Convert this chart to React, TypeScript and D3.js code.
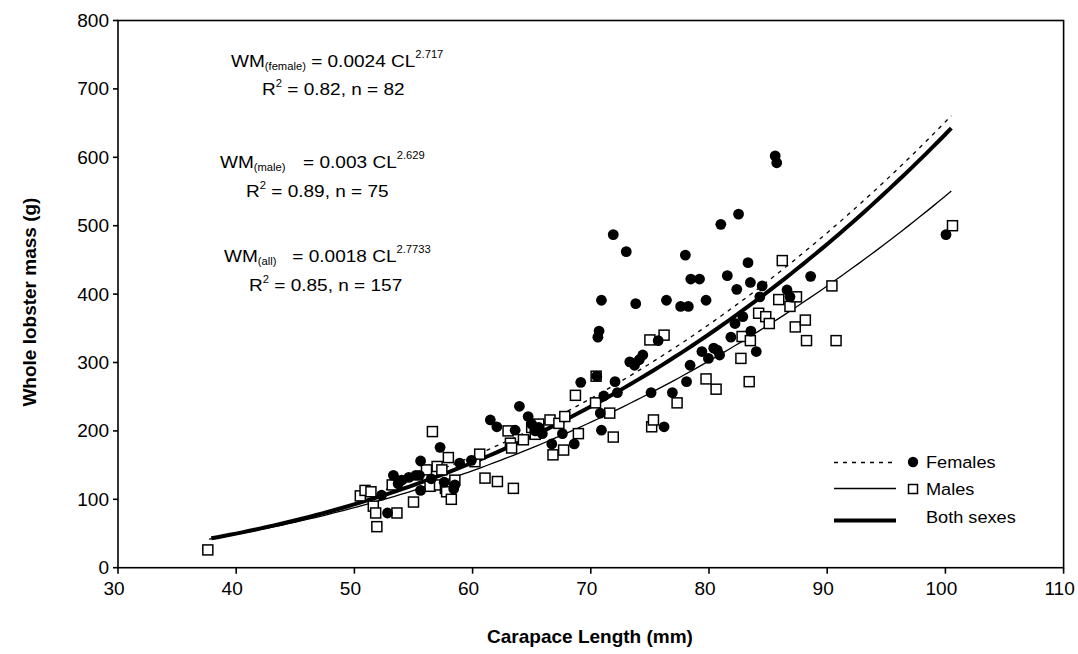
import React from "react";
import * as d3 from "d3";

// ---- data ----
const females: [number, number][] = [
  [52.3, 106], [52.8, 80], [53.3, 135], [53.7, 123], [54.0, 128], [54.6, 132], [55.2, 135],
  [55.5, 135], [55.6, 156], [55.6, 113], [56.5, 130], [57.25, 176], [57.6, 125], [58.5, 121],
  [58.4, 115], [58.9, 153], [59.9, 157], [61.5, 216], [62.05, 206], [63.6, 201], [63.96, 236],
  [64.7, 221], [65.0, 210], [65.3, 200], [65.6, 205], [65.9, 196], [66.7, 181], [67.6, 196],
  [68.6, 181], [69.15, 271], [70.5, 280], [70.6, 337], [70.7, 346], [70.8, 226], [70.9, 201],
  [70.9, 391], [71.1, 251], [72.05, 272], [72.25, 256], [71.9, 487], [73.0, 462], [73.3, 301],
  [73.7, 296], [74.1, 304], [74.4, 311], [73.8, 386], [75.1, 256], [75.7, 332], [76.2, 206],
  [76.4, 391], [76.9, 256], [77.6, 382], [78.25, 382], [78.0, 457], [78.1, 272], [78.4, 296],
  [78.46, 422], [79.2, 422], [79.75, 391], [79.4, 316], [79.95, 306], [80.4, 321], [80.7, 318],
  [80.9, 311], [81.0, 502], [81.55, 427], [81.85, 337], [82.2, 357], [82.35, 407], [82.5, 517],
  [82.86, 367], [83.3, 446], [83.5, 417], [83.54, 346], [84.0, 316], [84.3, 396], [84.5, 412],
  [85.6, 602], [85.73, 592], [86.6, 406], [86.85, 396], [88.6, 426], [100.05, 487],
];

const males: [number, number][] = [
  [37.6, 26], [50.5, 105], [50.9, 113], [51.4, 111], [51.6, 90], [51.8, 80], [51.9, 60],
  [53.2, 121], [53.6, 80], [55.0, 96], [56.1, 143], [56.4, 119], [56.6, 199], [57.0, 148],
  [57.2, 121], [57.4, 143], [57.7, 116], [57.8, 111], [57.95, 161], [58.2, 100], [58.5, 128],
  [60.2, 155], [60.6, 166], [61.05, 131], [62.1, 126], [63.0, 200], [63.2, 182], [63.3, 175],
  [63.45, 116], [64.3, 187], [65.0, 205], [65.3, 195], [65.6, 210], [66.55, 216], [66.8, 165],
  [67.3, 211], [67.8, 221], [67.7, 172], [68.7, 252], [68.95, 196], [70.4, 241], [70.45, 280],
  [71.6, 226], [71.9, 191], [75.0, 333], [75.15, 206], [75.3, 216], [76.2, 340], [77.3, 241],
  [79.75, 276], [80.6, 261], [82.7, 306], [82.8, 338], [83.4, 272], [83.5, 332], [84.2, 372],
  [84.8, 367], [85.1, 357], [85.9, 392], [86.2, 449], [86.85, 382], [87.3, 352], [87.4, 396],
  [88.15, 362], [88.25, 332], [90.4, 412], [90.75, 332], [100.6, 500],
];

// fitted power curves WM = a * CL^b, with their CL ranges
const fitNames = ["female", "male", "all"];
const fitA = [0.0024, 0.003, 0.0018];
const fitB = [2.717, 2.629, 2.7733];
const fitFrom = [50.5, 37.7, 37.9];
const fitTo = [100.5, 100.5, 100.5];

const xTicks = [30, 40, 50, 60, 70, 80, 90, 100, 110];
const yTicks = [0, 100, 200, 300, 400, 500, 600, 700, 800];

const FONT = "'Liberation Sans', Arial, Helvetica, sans-serif";

function ST(props: { x: number; y: number; sx?: number; fs: number; anchor?: string; children: any }) {
  const { x, y, sx = 1.1, fs, anchor = "start", children } = props;
  return (
    <g transform={`translate(${x},${y}) scale(${sx},1)`}>
      <text x={0} y={0} fontSize={fs} textAnchor={anchor} fill="#000">{children}</text>
    </g>
  );
}

function Eq(props: { x: number; y: number; sub: string; mid: string; sup: string; gap?: number }) {
  const { x, y, sub, mid, sup, gap = 0 } = props;
  return (
    <ST x={x} y={y} fs={17} sx={1.12}>
      WM<tspan fontSize={10} dy={3}>{sub}</tspan>
      <tspan dy={-3} dx={gap} xmlSpace="preserve">{mid}</tspan>
      <tspan fontSize={10} dy={-9}>{sup}</tspan>
    </ST>
  );
}

function R2(props: { x: number; y: number; rest: string }) {
  return (
    <ST x={props.x} y={props.y} fs={17} sx={1.12}>
      R<tspan fontSize={10} dy={-8}>2</tspan>
      <tspan dy={8}>{props.rest}</tspan>
    </ST>
  );
}

export default function App() {
  const W = 1078, H = 654;
  const L = 118, R = 1063.6, T = 20.5, B = 567.7;
  const x = d3.scaleLinear().domain([30, 110]).range([L, R]);
  const y = d3.scaleLinear().domain([0, 800]).range([B, T]);

  const curve = (i: number) => {
    const n = 120;
    const pts: [number, number][] = d3.range(n + 1).map((k) => {
      const cl = fitFrom[i] + ((fitTo[i] - fitFrom[i]) * k) / n;
      return [cl, fitA[i] * Math.pow(cl, fitB[i])];
    });
    return d3.line<[number, number]>().x((d) => x(d[0])).y((d) => y(d[1]))(pts) || "";
  };

  const styles = [
    { strokeWidth: 1.3, dash: "4,5" },
    { strokeWidth: 1.3, dash: undefined },
    { strokeWidth: 4, dash: undefined },
  ];

  const sq = 10;

  return (
    <svg width={W} height={H} style={{ display: "block", position: "absolute", left: 0, top: 0 }}
      fontFamily={FONT}>
      <rect x={0} y={0} width={W} height={H} fill="#fff" />
      {/* frame */}
      <rect x={L} y={T} width={R - L} height={B - T} fill="none" stroke="#000" strokeWidth={1.6} />
      {/* ticks */}
      {xTicks.map((t) => (
        <g key={"x" + t}>
          <line x1={x(t)} x2={x(t)} y1={B} y2={B + 6} stroke="#000" strokeWidth={1.6} />
          <ST x={x(t) - 4} y={B + 27} fs={18} sx={1.06} anchor="middle">{t}</ST>
        </g>
      ))}
      {yTicks.map((t) => (
        <g key={"y" + t}>
          <line x1={L - 5} x2={L} y1={y(t)} y2={y(t)} stroke="#000" strokeWidth={1.6} />
          <ST x={L - 9} y={y(t) + 6.5} fs={18} sx={1.06} anchor="end">{t}</ST>
        </g>
      ))}
      {/* axis titles */}
      <text x={590} y={643} fontSize={19} fontWeight="bold" textAnchor="middle">Carapace Length (mm)</text>
      <text transform={`translate(36,${(T + B) / 2 + 8}) rotate(-90)`} fontSize={19} fontWeight="bold"
        textAnchor="middle">Whole lobster mass (g)</text>

      {/* fitted curves */}
      {fitNames.map((nm, i) => (
        <path key={nm} d={curve(i)} fill="none" stroke="#000"
          strokeWidth={styles[i].strokeWidth} strokeDasharray={styles[i].dash} />
      ))}

      {/* male squares */}
      {males.map((d, i) => (
        <rect key={"m" + i} x={x(d[0]) - sq / 2} y={y(d[1]) - sq / 2} width={sq} height={sq}
          fill="#fff" stroke="#000" strokeWidth={1.5} />
      ))}
      {/* female circles */}
      {females.map((d, i) => (
        <circle key={"f" + i} cx={x(d[0])} cy={y(d[1])} r={5.4} fill="#000" />
      ))}

      {/* equations */}
      <Eq x={231} y={67} sub="(female)" mid=" = 0.0024 CL" sup="2.717" />
      <R2 x={262} y={95} rest=" = 0.82, n = 82" />
      <Eq x={220} y={168} sub="(male)" mid=" = 0.003 CL" sup="2.629" gap={11} />
      <R2 x={246} y={197} rest=" = 0.89, n = 75" />
      <Eq x={224} y={262} sub="(all)" mid="   = 0.0018 CL" sup="2.7733" />
      <R2 x={249} y={291} rest=" = 0.85, n = 157" />

      {/* legend */}
      <line x1={834} x2={895} y1={462.5} y2={462.5} stroke="#000" strokeWidth={1.3} strokeDasharray="4,5" />
      <circle cx={913} cy={462} r={5.2} fill="#000" />
      <ST x={926} y={468} fs={16.5}>Females</ST>
      <line x1={834} x2={896} y1={488.5} y2={488.5} stroke="#000" strokeWidth={1.3} />
      <rect x={908.5} y={484.5} width={9} height={9} fill="#fff" stroke="#000" strokeWidth={1.5} />
      <ST x={926} y={495} fs={16.5}>Males</ST>
      <line x1={834} x2={896} y1={520.5} y2={520.5} stroke="#000" strokeWidth={4} />
      <ST x={926} y={523} fs={16.5}>Both sexes</ST>
    </svg>
  );
}
